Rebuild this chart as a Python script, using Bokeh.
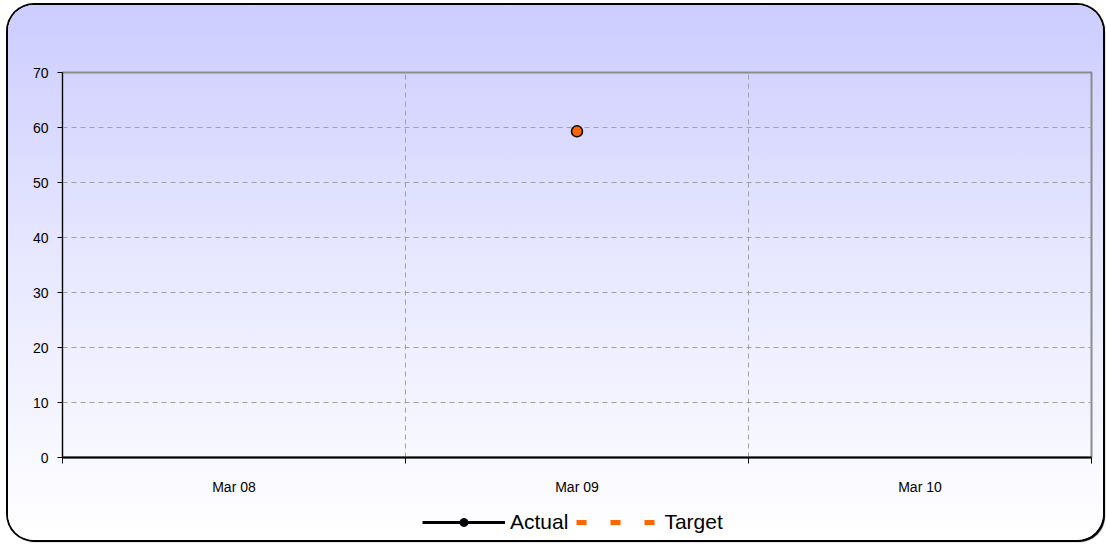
import math
from bokeh.plotting import figure
from bokeh.layouts import column
from bokeh.models import (Range1d, FixedTicker, Legend, LegendItem, ColumnDataSource)
from bokeh.embed import file_html
from bokeh.resources import INLINE

# ---- data ----
categories = ["Mar 08", "Mar 09", "Mar 10"]
actual = [math.nan, 59.3, math.nan]
target = [math.nan, math.nan, math.nan]
y_ticks = [0, 10, 20, 30, 40, 50, 60, 70]
series_names = ["Actual", "Target"]

xpos = [i + 0.5 for i in range(len(categories))]
src = ColumnDataSource(dict(x=xpos, actual=actual, target=target))

W = 1095
H_MAIN, H_LEG = 500, 35
p = figure(width=W, height=H_MAIN, output_backend="svg", toolbar_location=None,
           x_range=Range1d(0, len(categories)), y_range=Range1d(0, 70),
           min_border_left=54, min_border_right=12, min_border_top=67,
           min_border_bottom=48)

p.background_fill_alpha = 0
p.border_fill_alpha = 0
p.outline_line_color = "#8C8C8C"
p.outline_line_width = 2

# x axis: labels at category centres, ticks/grid at boundaries
p.xaxis.ticker = FixedTicker(ticks=xpos, minor_ticks=list(range(len(categories) + 1)))
p.xaxis.major_label_overrides = {x: c for x, c in zip(xpos, categories)}
p.xaxis.major_tick_line_color = None
p.xaxis.minor_tick_line_color = "#000000"
p.xaxis.minor_tick_out = 6
p.xaxis.minor_tick_in = 0
p.xaxis.axis_line_color = "#000000"
p.xaxis.axis_line_width = 2
p.xaxis.major_label_standoff = 15
p.xaxis.major_label_text_font = "Liberation Sans"
p.xaxis.major_label_text_font_size = "14px"
p.xaxis.major_label_text_color = "#000000"

p.yaxis.ticker = FixedTicker(ticks=y_ticks)
p.yaxis.minor_tick_line_color = None
p.yaxis.major_tick_out = 5
p.yaxis.major_tick_in = 0
p.yaxis.axis_line_color = "#000000"
p.yaxis.major_label_standoff = 9
p.yaxis.major_label_text_font = "Liberation Sans"
p.yaxis.major_label_text_font_size = "14px"
p.yaxis.major_label_text_color = "#000000"

p.xgrid.grid_line_color = None
p.xgrid.minor_grid_line_color = "#A0A0A8"
p.xgrid.minor_grid_line_dash = "5 4"
p.ygrid.grid_line_color = "#A0A0A8"
p.ygrid.grid_line_dash = "5 4"

# series
p.line("x", "target", source=src, line_color="#FF6600", line_width=5,
       line_dash="10 24")
p.line("x", "actual", source=src, line_color="#000000", line_width=3)
p.scatter("x", "actual", source=src, size=10, fill_color="#000000",
          line_color="#000000")
p.scatter("x", "actual", source=src, size=11, fill_color="#FF6600",
          line_color="#000000", line_width=1.5)

# ---- legend strip (separate figure below the chart; its ranges keep the
# series out of view so only the legend shows) ----
q = figure(width=W, height=H_LEG, output_backend="svg", toolbar_location=None,
           x_range=Range1d(-2, -1), y_range=Range1d(-2, -1),
           min_border=0, x_axis_type=None, y_axis_type=None)
q.background_fill_alpha = 0
q.border_fill_alpha = 0
q.outline_line_color = None
q.grid.visible = False
la = q.line("x", "actual", source=src, line_color="#000000", line_width=3)
lm = q.scatter("x", "actual", source=src, size=11, fill_color="#000000",
               line_color="#000000")
lt = q.line("x", "target", source=src, line_color="#FF6600", line_width=5,
            line_dash="10 24")

legend = Legend(items=[LegendItem(label=series_names[0], renderers=[la, lm]),
                       LegendItem(label=series_names[1], renderers=[lt])],
                orientation="horizontal", location=(360, 6),
                glyph_width=83, glyph_height=20, label_standoff=5, spacing=8,
                label_width=10,
                label_text_font="Liberation Sans", label_text_font_size="21px",
                label_text_color="#000000", background_fill_alpha=0,
                border_line_color=None, padding=0, margin=0)
q.add_layout(legend, "center")

layout = column(p, q, spacing=0)
layout.styles = {
    "margin": "5px 0 0 8px",
    "background": "linear-gradient(to bottom, #CCCCFF 0%, #E6E6FF 45%, #FFFFFF 100%)",
    "border-radius": "26px",
    "box-shadow": "0 0 0 2px #000000, 2px 2px 1px #000000",
}

open("out.html", "w").write(file_html(layout, INLINE))
